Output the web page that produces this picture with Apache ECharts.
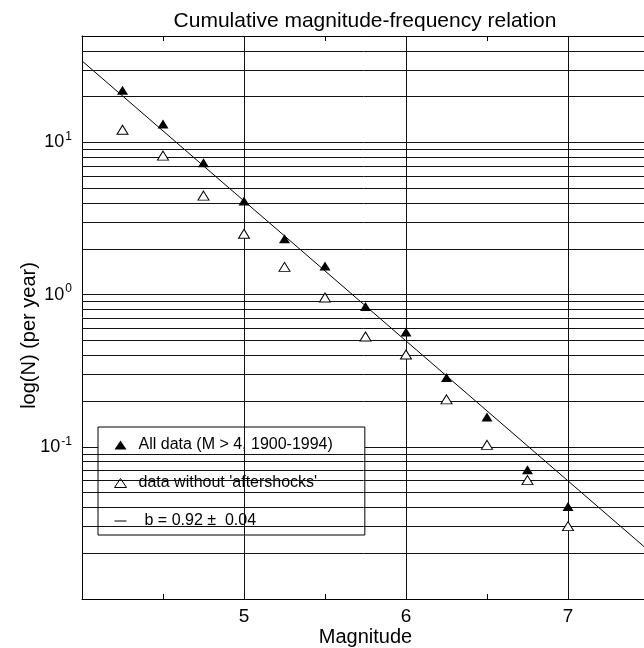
<!DOCTYPE html>
<html>
<head>
<meta charset="utf-8">
<script src="https://cdn.jsdelivr.net/npm/echarts@6/dist/echarts.min.js"></script>
<style>
html,body{margin:0;padding:0;background:#fff;}
#chart{width:644px;height:648px;}
</style>
</head>
<body>
<div id="chart"></div>
<script>
// ---- data ----
const magnitudes = [4.25, 4.5, 4.75, 5.0, 5.25, 5.5, 5.75, 6.0, 6.25, 6.5, 6.75, 7.0];
const allData = [22.0, 13.2, 7.36, 4.12, 2.33, 1.54, 0.836, 0.567, 0.285, 0.157, 0.0706, 0.0406];
const withoutAftershocks = [12.1, 8.19, 4.47, 2.51, 1.52, 0.957, 0.53, 0.404, 0.205, 0.103, 0.0604, 0.0301];
const fitMagnitudes = [4.0, 7.5];
const fitRate = [34.3, 0.0207];
const xLabelValues = [5, 6, 7];
const yLabelValues = [10, 1, 0.1];
const yLabelExponents = ['1', '0', '-1'];
const verticalGrid = [5, 6, 7];
const minorGridY = [0.02, 0.03, 0.04, 0.05, 0.06, 0.07, 0.08, 0.09,
                    0.2, 0.3, 0.4, 0.5, 0.6, 0.7, 0.8, 0.9,
                    2, 3, 4, 5, 6, 7, 8, 9, 20, 30, 40];
const names = ['All data (M > 4, 1900-1994)', "data without 'aftershocks'", 'b = 0.92 \u00b1  0.04'];

const FONT = 'Liberation Sans, Arial, Helvetica, sans-serif';
const chart = echarts.init(document.getElementById('chart'), null, {renderer: 'canvas'});

function pairs(xs, ys) { return xs.map((x, i) => [x, ys[i]]); }

const gridLineStyle = {type: 'solid', color: '#111', width: 1};

const option = {
  backgroundColor: '#fff',
  animation: false,
  textStyle: {fontFamily: FONT, color: '#000'},
  title: {
    text: 'Cumulative magnitude-frequency relation',
    left: 360, top: 6, textAlign: 'center',
    textStyle: {fontFamily: FONT, fontSize: 21, fontWeight: 'normal', color: '#000'}
  },
  grid: {left: 82, right: -5, top: 36, bottom: 49, containLabel: false, outerBoundsMode: 'none'},
  legend: {
    orient: 'vertical', left: 98, top: 427,
    padding: [10, 32, 6, 16], itemGap: 22, itemWidth: 12, itemHeight: 9,
    backgroundColor: '#fff', borderColor: '#000', borderWidth: 1, borderRadius: 0,
    textStyle: {fontFamily: FONT, fontSize: 16, color: '#000', padding: [0, 0, 0, 7]},
    data: [
      {name: names[0], icon: 'triangle', itemStyle: {color: '#000', borderWidth: 0}},
      {name: names[1], icon: 'triangle', itemStyle: {color: '#fff', borderColor: '#000', borderWidth: 1}},
      {name: names[2], itemStyle: {opacity: 0}, lineStyle: {color: '#000', width: 1},
       textStyle: {fontFamily: FONT, fontSize: 16, color: '#000', padding: [0, 0, 0, 13]}}
    ],
    selectedMode: false
  },
  xAxis: [{
    type: 'value', min: 4, max: 7.5, interval: 0.5, position: 'bottom',
    name: 'Magnitude', nameLocation: 'middle', nameGap: 28, nameMoveOverlap: false,
    nameTextStyle: {fontFamily: FONT, fontSize: 20, color: '#000'},
    axisLine: {show: true, lineStyle: {color: '#000', width: 1}},
    axisTick: {show: true, inside: true, length: 5, lineStyle: {color: '#000'}},
    axisLabel: {
      fontFamily: FONT, fontSize: 19, color: '#000', margin: 8,
      formatter: v => xLabelValues.indexOf(Math.round(v * 100) / 100) >= 0 ? String(Math.round(v)) : ''
    },
    splitLine: {show: false}
  }, {
    type: 'value', min: 4, max: 7.5, interval: 0.5, position: 'top',
    axisLine: {show: true, lineStyle: {color: '#000', width: 1}},
    axisTick: {show: true, inside: true, length: 5, lineStyle: {color: '#000'}},
    axisLabel: {show: false},
    splitLine: {show: false}
  }],
  yAxis: [{
    type: 'log', logBase: 10, min: 0.01, max: 50,
    name: 'log(N) (per year)', nameLocation: 'middle', nameGap: 43, nameMoveOverlap: false,
    nameTextStyle: {fontFamily: FONT, fontSize: 20, color: '#000', padding: [0, 36, 0, 0]},
    axisLine: {show: true, lineStyle: {color: '#000', width: 1}},
    axisTick: {show: false},
    axisLabel: {
      margin: 10, color: '#000',
      formatter: v => {
        for (let i = 0; i < yLabelValues.length; i++) {
          if (Math.abs(v - yLabelValues[i]) < yLabelValues[i] * 1e-6) {
            return '{b|10}{s|' + yLabelExponents[i] + '}';
          }
        }
        return '';
      },
      rich: {
        b: {fontFamily: FONT, fontSize: 18, color: '#000', verticalAlign: 'middle'},
        s: {fontFamily: FONT, fontSize: 12, color: '#000', padding: [0, 0, 11, 1]}
      }
    },
    splitLine: {show: true, lineStyle: gridLineStyle}
  }],
  series: [{
    name: names[2],
    type: 'line',
    xAxisIndex: 0, yAxisIndex: 0,
    data: pairs(fitMagnitudes, fitRate),
    symbol: 'none',
    lineStyle: {color: '#000', width: 1},
    itemStyle: {color: '#000'},
    z: 3,
    markLine: {
      silent: true, symbol: 'none', animation: false,
      label: {show: false},
      lineStyle: gridLineStyle,
      emphasis: {disabled: true},
      data: minorGridY.map(v => ({yAxis: v})).concat(verticalGrid.map(v => ({xAxis: v})))
    }
  }, {
    name: names[0],
    type: 'scatter',
    data: pairs(magnitudes, allData),
    symbol: 'triangle', symbolSize: [11, 9],
    itemStyle: {color: '#000', opacity: 1},
    z: 5
  }, {
    name: names[1],
    type: 'scatter',
    data: pairs(magnitudes, withoutAftershocks),
    symbol: 'triangle', symbolSize: [11, 9],
    itemStyle: {color: '#fff', borderColor: '#000', borderWidth: 1, opacity: 1},
    z: 5
  }]
};
chart.setOption(option);
</script>
</body>
</html>
